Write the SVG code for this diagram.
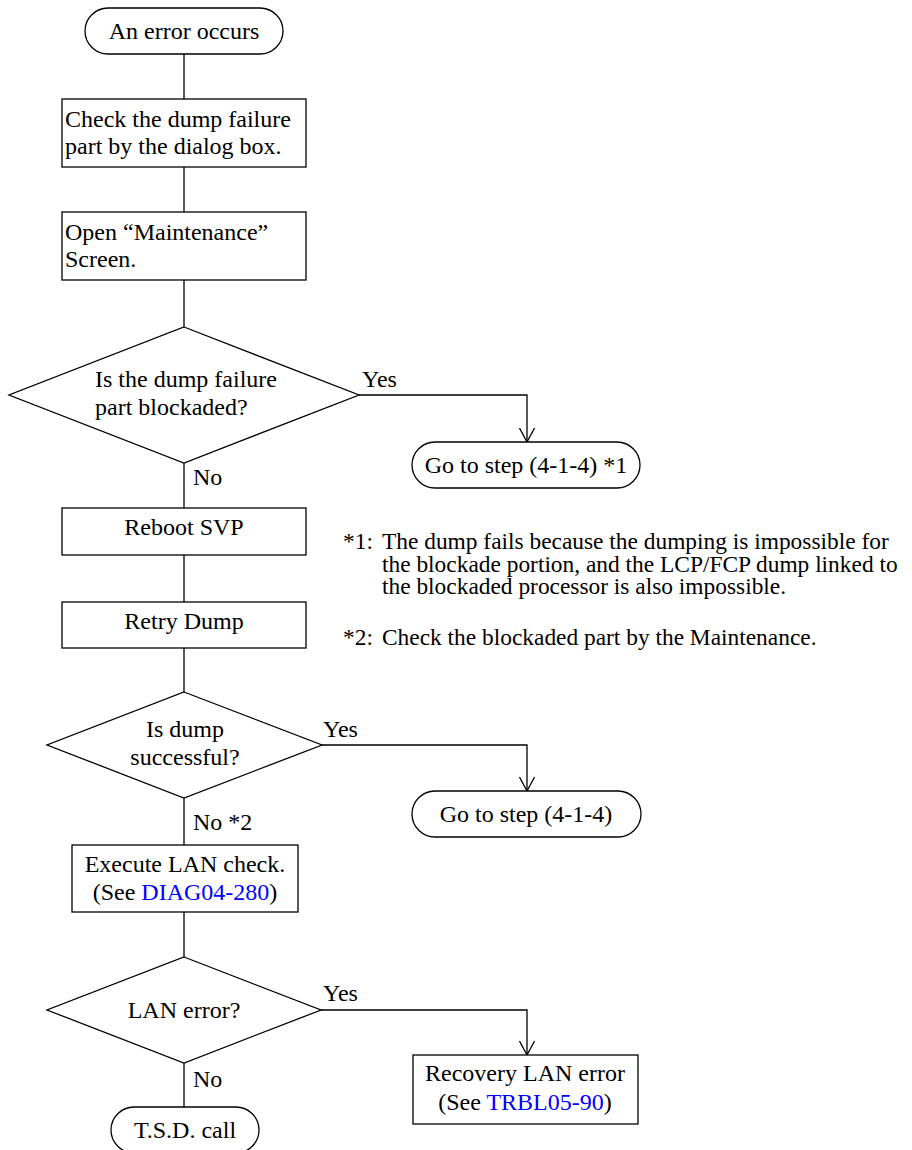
<svg xmlns="http://www.w3.org/2000/svg" width="912" height="1150" viewBox="0 0 912 1150">
<defs>
<style>
.s{fill:#fff;stroke:#000;stroke-width:1.3}
.c{fill:none;stroke:#000;stroke-width:1.3}
text{font-family:"Liberation Serif","Times New Roman",serif;font-size:24px;fill:#000}
.m{text-anchor:middle}
.lk{fill:#0000FF}
.n{font-size:23.4px}
</style>
<marker id="ah" viewBox="-15 -8 16 16" markerWidth="16" markerHeight="16" refX="0" refY="0" orient="auto" markerUnits="userSpaceOnUse">
<path d="M-14,-7.5 L0,0 L-14,7.5" fill="none" stroke="#000" stroke-width="1.3"/>
</marker>
</defs>
<rect width="912" height="1150" fill="#fff"/>
<g id="connectors">
<path class="c" d="M184,54 V99"/>
<path class="c" d="M184,167 V212"/>
<path class="c" d="M184,280 V327"/>
<path class="c" d="M359,395 H527 V442" marker-end="url(#ah)"/>
<path class="c" d="M184,463 V508"/>
<path class="c" d="M184,555 V602"/>
<path class="c" d="M184,648 V692"/>
<path class="c" d="M322,745 H527 V791" marker-end="url(#ah)"/>
<path class="c" d="M184,798 V845"/>
<path class="c" d="M184,912 V957"/>
<path class="c" d="M321,1010 H527 V1055" marker-end="url(#ah)"/>
<path class="c" d="M184,1063 V1107"/>
</g>
<g id="start">
<rect class="s" x="85" y="8" width="198" height="46" rx="23"/>
<text class="m" x="184" y="39">An error occurs</text>
</g>
<g id="check">
<rect class="s" x="62" y="99" width="244" height="68"/>
<text x="65" y="127">Check the dump failure</text>
<text x="65" y="154">part by the dialog box.</text>
</g>
<g id="open">
<rect class="s" x="62" y="212" width="244" height="68"/>
<text x="65" y="240">Open “Maintenance”</text>
<text x="65" y="267">Screen.</text>
</g>
<g id="d1">
<polygon class="s" points="184,327 359,395 184,463 9,395"/>
<text x="95" y="387">Is the dump failure</text>
<text x="95" y="415">part blockaded?</text>
</g>
<text x="362" y="387">Yes</text>
<text x="193" y="485">No</text>
<g id="goto1">
<rect class="s" x="412" y="442" width="228" height="46" rx="23"/>
<text class="m" x="526" y="473">Go to step (4-1-4) *1</text>
</g>
<g id="notes" class="n">
<text class="n" x="343" y="549">*1:</text>
<text class="n" x="382" y="549">The dump fails because the dumping is impossible for</text>
<text class="n" x="382" y="571.5">the blockade portion, and the LCP/FCP dump linked to</text>
<text class="n" x="382" y="594">the blockaded processor is also impossible.</text>
<text class="n" x="343" y="645">*2:</text>
<text class="n" x="382" y="645">Check the blockaded part by the Maintenance.</text>
</g>
<g id="reboot">
<rect class="s" x="62" y="508" width="244" height="47"/>
<text class="m" x="184" y="535">Reboot SVP</text>
</g>
<g id="retry">
<rect class="s" x="62" y="602" width="244" height="46"/>
<text class="m" x="184" y="629">Retry Dump</text>
</g>
<g id="d2">
<polygon class="s" points="184,692 322,745 184,798 47,745"/>
<text class="m" x="185" y="737">Is dump</text>
<text class="m" x="185" y="765">successful?</text>
</g>
<text x="323" y="737">Yes</text>
<text x="193" y="830">No *2</text>
<g id="goto2">
<rect class="s" x="412" y="791" width="229" height="46" rx="23"/>
<text class="m" x="526" y="822">Go to step (4-1-4)</text>
</g>
<g id="lancheck">
<rect class="s" x="72" y="845" width="226" height="67"/>
<text class="m" x="185" y="872">Execute LAN check.</text>
<text class="m" x="185" y="900">(See <tspan class="lk">DIAG04-280</tspan>)</text>
</g>
<g id="d3">
<polygon class="s" points="184,957 321,1010 184,1063 47,1010"/>
<text class="m" x="184" y="1018">LAN error?</text>
</g>
<text x="323" y="1001">Yes</text>
<text x="193" y="1087">No</text>
<g id="recovery">
<rect class="s" x="413" y="1055" width="225" height="69"/>
<text class="m" x="525" y="1081">Recovery LAN error</text>
<text class="m" x="525" y="1110">(See <tspan class="lk">TRBL05-90</tspan>)</text>
</g>
<g id="tsd">
<rect class="s" x="111" y="1107" width="148" height="46" rx="23"/>
<text class="m" x="185" y="1138">T.S.D. call</text>
</g>
</svg>
